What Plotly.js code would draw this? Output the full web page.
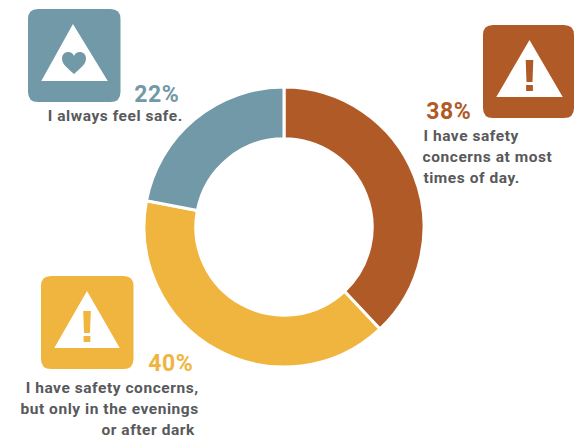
<!DOCTYPE html>
<html>
<head>
<meta charset="utf-8">
<script src="https://cdn.plot.ly/plotly-3.0.1.min.js"></script>
<style>
html,body{margin:0;padding:0;background:#fff}
#chart{width:574px;height:439px}
#chart .annotation-text{letter-spacing:.55px}
</style>
</head>
<body>
<div id="chart"></div>
<script>
// Survey answers, clockwise from twelve o'clock
const answers = ["Concerns at most times of day", "Concerns in the evenings or after dark", "Always feel safe"];
const shares = [38, 40, 22];
const sliceColors = ["#b05a27", "#f0b53f", "#7299a8"];

const W = 574, H = 439;
const INK = "#58595b";
const FACE = "Roboto, 'Open Sans', sans-serif";

// Pixel position to paper fraction
const px = x => x / W;
const py = y => 1 - y / H;
const P = (x, y) => px(x).toFixed(5) + "," + py(y).toFixed(5);

function roundedBox(x0, y0, x1, y1, r, color) {
  const d = "M" + P(x0 + r, y0) + " L" + P(x1 - r, y0) + " Q" + P(x1, y0) + " " + P(x1, y0 + r) +
    " L" + P(x1, y1 - r) + " Q" + P(x1, y1) + " " + P(x1 - r, y1) +
    " L" + P(x0 + r, y1) + " Q" + P(x0, y1) + " " + P(x0, y1 - r) +
    " L" + P(x0, y0 + r) + " Q" + P(x0, y0) + " " + P(x0 + r, y0) + " Z";
  return {type: "path", xref: "paper", yref: "paper", path: d, fillcolor: color, line: {width: 0}, layer: "above"};
}
function polygon(points, color, lineWidth) {
  const d = "M" + points.map(p => P(p[0], p[1])).join(" L") + " Z";
  return {type: "path", xref: "paper", yref: "paper", path: d, fillcolor: color,
          line: {width: lineWidth || 0, color: color}, layer: "above"};
}
function warningIcon(x0, y0, x1, y1, apexX, apexY, baseY, halfBase, color) {
  return [
    roundedBox(x0, y0, x1, y1, 10, color),
    polygon([[apexX, apexY + 1], [apexX + halfBase - 1, baseY - 1], [apexX - halfBase + 1, baseY - 1]], "#ffffff", 2),
    polygon([[apexX - 3.8, apexY + 19], [apexX + 3.8, apexY + 19], [apexX + 3, apexY + 41], [apexX - 3, apexY + 41]], color),
    polygon([[apexX - 3.4, apexY + 44], [apexX + 3.4, apexY + 44], [apexX + 3.4, apexY + 50], [apexX - 3.4, apexY + 50]], color)
  ];
}
function heart(cx, top, color) {
  const d = "M" + P(cx, top + 22) +
    " C" + P(cx - 5, top + 17) + " " + P(cx - 12, top + 13) + " " + P(cx - 12, top + 6.5) +
    " C" + P(cx - 12, top + 2) + " " + P(cx - 8.5, top) + " " + P(cx - 6, top) +
    " C" + P(cx - 3, top) + " " + P(cx - 1, top + 1.5) + " " + P(cx, top + 4) +
    " C" + P(cx + 1, top + 1.5) + " " + P(cx + 3, top) + " " + P(cx + 6, top) +
    " C" + P(cx + 8.5, top) + " " + P(cx + 12, top + 2) + " " + P(cx + 12, top + 6.5) +
    " C" + P(cx + 12, top + 13) + " " + P(cx + 5, top + 17) + " " + P(cx, top + 22) + " Z";
  return {type: "path", xref: "paper", yref: "paper", path: d, fillcolor: color, line: {width: 0}, layer: "above"};
}

const shapes = [
  roundedBox(28, 9, 120.5, 102, 10, sliceColors[2]),
  polygon([[73, 26], [106, 80], [43, 80]], "#ffffff", 2),
  heart(74, 52, sliceColors[2]),
  ...warningIcon(483, 25, 574, 118, 529.5, 41, 97, 32.5, sliceColors[0]),
  ...warningIcon(41, 276, 133.5, 369, 87, 292, 348, 32, sliceColors[1])
];

function label(text, x, y, anchor, size, color) {
  return {text: text, xref: "paper", yref: "paper", x: px(x), y: py(y), xanchor: anchor, yanchor: "middle",
          showarrow: false, borderpad: 0, borderwidth: 0,
          font: {family: FACE, size: size, color: color, weight: 700}};
}

const annotations = [
  label(shares[2] + "%", 177.5, 94, "right", 23, sliceColors[2]),
  label("I always feel safe.", 177.5, 116, "right", 15.5, INK),
  label(shares[0] + "%", 427, 111, "left", 23, sliceColors[0]),
  label("I have safety", 427, 136, "left", 15.5, INK),
  label("concerns at most", 427, 157, "left", 15.5, INK),
  label("times of day.", 427, 178, "left", 15.5, INK),
  label(shares[1] + "%", 192, 363, "right", 23, sliceColors[1]),
  label("I have safety concerns,", 192, 388, "right", 15.5, INK),
  label("but only in the evenings", 192, 409, "right", 15.5, INK),
  label("or after dark", 192, 430, "right", 15.5, INK)
];

Plotly.newPlot("chart", [{
  type: "pie",
  labels: answers,
  values: shares,
  sort: false,
  direction: "clockwise",
  rotation: 0,
  hole: 0.63,
  textinfo: "none",
  hoverinfo: "label+percent",
  marker: {colors: sliceColors, line: {color: "#ffffff", width: 3}},
  domain: {x: [144 / W, 424 / W], y: [1 - 367 / H, 1 - 87 / H]}
}], {
  width: W,
  height: H,
  margin: {l: 0, r: 0, t: 0, b: 0},
  paper_bgcolor: "#ffffff",
  showlegend: false,
  shapes: shapes,
  annotations: annotations
}, {displayModeBar: false, responsive: false});
</script>
</body>
</html>
